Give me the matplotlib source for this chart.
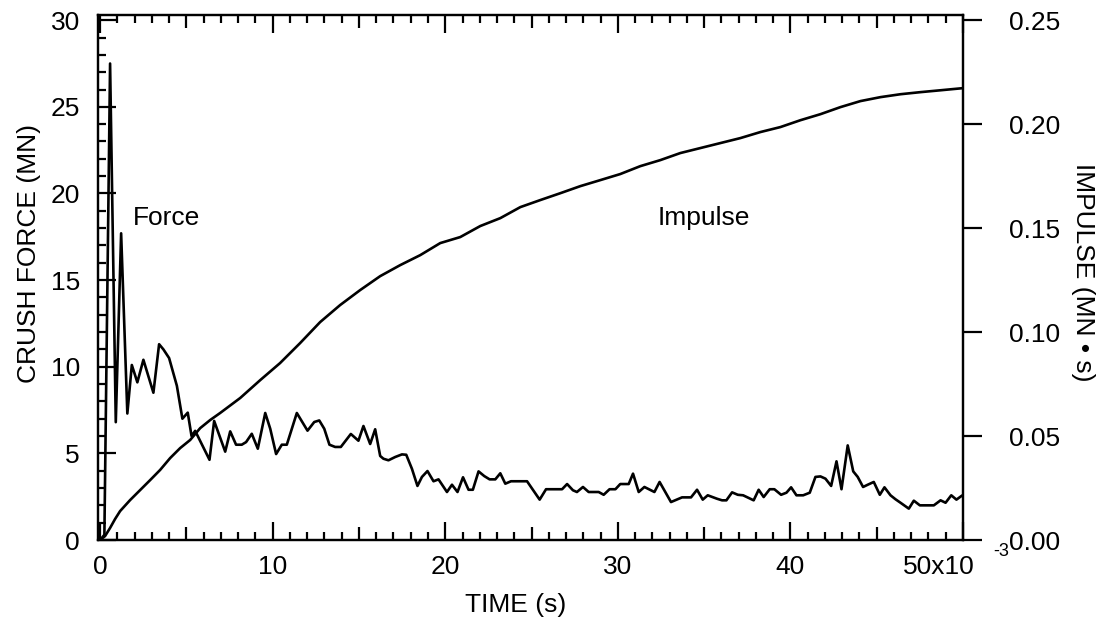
import matplotlib
matplotlib.use('Agg')
import matplotlib.pyplot as plt
import matplotlib.transforms as mtransforms
from matplotlib.ticker import MultipleLocator, FixedLocator

plt.rcParams['font.family'] = ['Liberation Sans', 'DejaVu Sans']
plt.rcParams['font.size'] = 19

# time in ms (axis shows x10^-3 s)
force_t = [0, 0.25, 0.58, 0.91, 1.22, 1.58, 1.84, 2.16, 2.51, 3.09, 3.42, 3.67, 4.0, 4.45,
           4.77, 5.08, 5.3, 5.51, 6.34, 6.61, 7.25, 7.54, 7.88, 8.21, 8.46, 8.79, 9.14,
           9.57, 9.86, 10.2, 10.53, 10.82, 11.4, 12.02, 12.41, 12.7, 12.99, 13.29, 13.62,
           13.95, 14.53, 14.97, 15.26, 15.65, 15.94, 16.23, 16.42, 16.71, 17.1, 17.49,
           17.74, 18.07, 18.39, 18.65, 18.97, 19.32, 19.61, 20.1, 20.39, 20.71, 21.03,
           21.35, 21.6, 21.93, 22.26, 22.57, 22.9, 23.19, 23.48, 23.81, 24.74, 25.47,
           25.84, 26.77, 27.06, 27.4, 27.63, 27.98, 28.31, 28.89, 29.18, 29.52, 29.86,
           30.14, 30.63, 30.88, 31.21, 31.54, 32.12, 32.42, 32.75, 33.08, 33.72, 34.24,
           34.59, 34.92, 35.21, 35.75, 36.04, 36.29, 36.62, 36.95, 37.26, 37.87, 38.16,
           38.45, 38.8, 39.07, 39.46, 39.77, 40.04, 40.35, 40.74, 41.12, 41.45, 41.74,
           42.03, 42.36, 42.67, 42.96, 43.32, 43.64, 43.9, 44.21, 44.48, 44.83, 45.18,
           45.45, 45.8, 46.09, 46.38, 46.86, 47.15, 47.5, 48.31, 48.7, 48.99, 49.32,
           49.62, 49.91]
force_mn = [0, 0.3, 27.5, 6.8, 17.7, 7.3, 10.1, 9.1, 10.4, 8.5, 11.3, 11.0, 10.5, 8.9,
            7.0, 7.35, 6.0, 6.3, 4.63, 6.87, 5.1, 6.27, 5.5, 5.5, 5.65, 6.13, 5.27,
            7.33, 6.42, 4.96, 5.5, 5.5, 7.33, 6.31, 6.81, 6.9, 6.42, 5.5, 5.37,
            5.37, 6.12, 5.73, 6.58, 5.54, 6.39, 4.85, 4.69, 4.6, 4.79, 4.94,
            4.92, 4.11, 3.12, 3.64, 3.98, 3.39, 3.5, 2.77, 3.19, 2.77, 3.62,
            2.9, 2.9, 3.96, 3.69, 3.5, 3.5, 3.85, 3.25, 3.39, 3.39, 2.33,
            2.93, 2.93, 3.23, 2.87, 2.77, 3.06, 2.77, 2.77, 2.61, 2.93, 2.93,
            3.23, 3.23, 3.83, 2.77, 3.06, 2.77, 3.35, 2.77, 2.19, 2.46, 2.46,
            2.9, 2.33, 2.58, 2.38, 2.29, 2.29, 2.75, 2.61, 2.58, 2.29, 2.9,
            2.48, 2.93, 2.93, 2.61, 2.73, 3.04, 2.58, 2.58, 2.73, 3.64, 3.67,
            3.54, 3.12, 4.54, 2.93, 5.46, 3.96, 3.64, 3.06, 3.19, 3.35, 2.61,
            3.04, 2.58, 2.35, 2.15, 1.81, 2.27, 2.0, 2.0, 2.29, 2.15, 2.58,
            2.33, 2.54]

impulse_t = [0, 0.29, 0.58, 0.87, 1.16, 1.74, 2.32, 2.90, 3.48, 4.06, 4.64, 5.22, 5.80,
             6.38, 6.96, 8.12, 9.28, 10.43, 11.59, 12.75, 13.91, 15.07, 16.23, 17.39,
             18.55, 19.71, 20.87, 22.03, 23.19, 24.35, 25.51, 26.67, 27.83, 28.99, 30.14,
             31.30, 32.46, 33.62, 34.78, 35.94, 37.10, 38.26, 39.42, 40.58, 41.74, 42.90,
             44.06, 45.22, 46.38, 47.54, 48.70, 49.97]
impulse_mns = [0, 0.0019, 0.0058, 0.0101, 0.0139, 0.0192, 0.0240, 0.0288, 0.0337, 0.0394,
               0.0442, 0.0481, 0.0538, 0.0577, 0.0611, 0.0683, 0.0769, 0.0851, 0.0947,
               0.1048, 0.1130, 0.1202, 0.1269, 0.1322, 0.1370, 0.1428, 0.1457, 0.1510,
               0.1548, 0.1601, 0.1635, 0.1668, 0.1702, 0.1731, 0.1760, 0.1798, 0.1827,
               0.1861, 0.1885, 0.1909, 0.1933, 0.1962, 0.1986, 0.2019, 0.2048, 0.2082,
               0.2111, 0.2130, 0.2144, 0.2154, 0.2163, 0.2173]

x_ticks = [0, 10, 20, 30, 40, 50]
x_labels = ['0', '10', '20', '30', '40', '50x10']

W, H = 1101, 624
fig = plt.figure(figsize=(W / 100, H / 100), dpi=100)
ax = fig.add_axes([98 / W, 1 - 540 / H, 865 / W, 525 / H])
ax2 = ax.twinx()

ax.plot(force_t, force_mn, color='black', lw=1.9)
ax2.plot(impulse_t, impulse_mns, color='black', lw=1.9)

ax.set_xlim(-0.12, 50)
ax.set_ylim(0, 30.3)
ax2.set_ylim(0, 0.2525)

for a in (ax, ax2):
    for s in a.spines.values():
        s.set_linewidth(1.6)

# x ticks: major 10, medium 5, minor 1, all pointing in, mirrored on top
ax.xaxis.set_major_locator(FixedLocator(x_ticks))
ax.set_xticklabels(x_labels)
ax.xaxis.set_minor_locator(FixedLocator([v for v in range(1, 50) if v % 5]))
ax.tick_params(axis='x', which='both', direction='in', top=True, bottom=True, width=1.6, pad=11)
ax.tick_params(axis='x', which='major', length=13)
ax.tick_params(axis='x', which='minor', length=6)
for side in ('bottom', 'top'):
    sec = ax.secondary_xaxis(side)
    sec.set_xticks([5, 15, 25, 35, 45])
    sec.tick_params(direction='in', length=9.5, width=1.6, labelbottom=False, labeltop=False)
    sec.spines[side].set_visible(False)

ax.yaxis.set_major_locator(MultipleLocator(5))
ax.yaxis.set_minor_locator(MultipleLocator(1))
ax.tick_params(axis='y', which='both', direction='in', left=True, right=False, width=1.6, pad=13)
ax.tick_params(axis='y', which='major', length=13)
ax.tick_params(axis='y', which='minor', length=6)

ax2.yaxis.set_major_locator(MultipleLocator(0.05))
ax2.yaxis.set_major_formatter(plt.FormatStrFormatter('%.2f'))
ax2.tick_params(axis='y', direction='out', length=14, width=1.6, pad=19)

# shift the "50x10" label left like the original
lbl = ax.get_xticklabels()[-1]
lbl.set_transform(lbl.get_transform() + mtransforms.ScaledTranslation(-24 / 100, 0, fig.dpi_scale_trans))
fig.text(1001 / W, 1 - 551 / H, '-3', fontsize=13, ha='center', va='center')

ax.set_xlabel('TIME (s)', va='center')
ax.xaxis.set_label_coords((516 - 98) / 865, -0.124)
ax.set_ylabel('CRUSH FORCE (MN)', va='center')
ax.yaxis.set_label_coords((29 - 98) / 865, 0.545)
ax2.set_ylabel('IMPULSE (MN \u2022 s)', rotation=270, va='center')
ax2.yaxis.set_label_coords((1083 - 98) / 865, 0.51)

ax.text(1.9, 18.6, 'Force', va='center', ha='left')
ax.text(32.3, 18.6, 'Impulse', va='center', ha='left')

fig.savefig('out.png', dpi=100)
